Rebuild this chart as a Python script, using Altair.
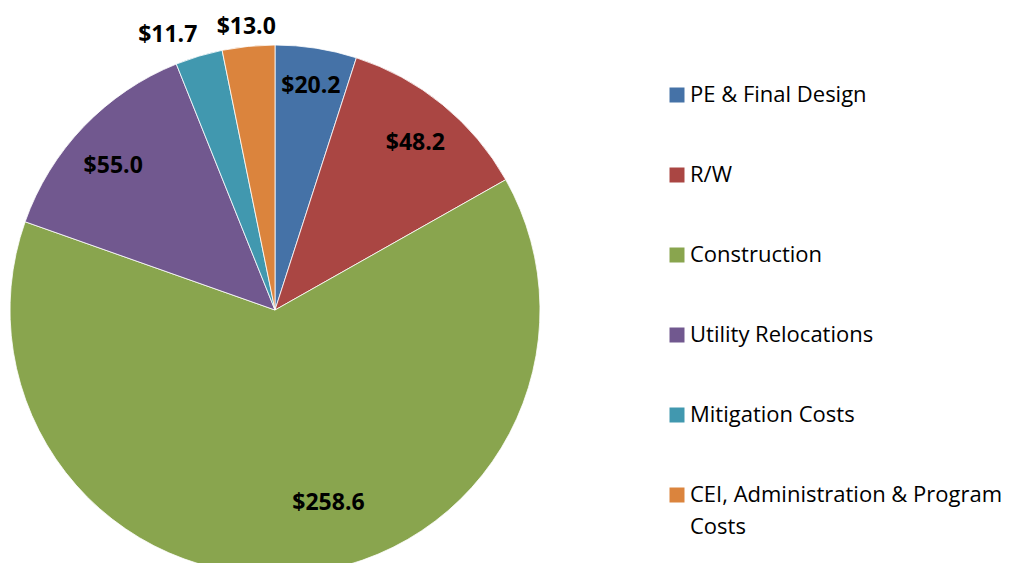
import altair as alt
import pandas as pd

categories = ["PE & Final Design", "R/W", "Construction", "Utility Relocations",
              "Mitigation Costs", "CEI, Administration & Program Costs"]
values = [20.2, 48.2, 258.6, 55.0, 11.7, 13.0]
colors = ["#4572A7", "#AA4643", "#89A54E", "#71588F", "#4198AF", "#DB843D"]

df = pd.DataFrame({"category": categories, "value": values, "order": list(range(len(values)))})
df["label"] = df["value"].map(lambda v: f"${v:.1f}")

CX, CY, R = 267, 302, 265
FONT = "Open Sans"

color_enc = alt.Color(
    "category:N",
    scale=alt.Scale(domain=categories, range=colors),
    legend=alt.Legend(
        title=None, orient="none", legendX=658, legendY=76,
        symbolType="square", symbolSize=225, symbolStrokeWidth=0,
        labelFont=FONT, labelFontSize=22, labelColor="#000000",
        rowPadding=58, labelLimit=400, symbolOffset=0, labelOffset=2,
        labelExpr="datum.label == 'CEI, Administration & Program Costs' ? ['CEI, Administration & Program', 'Costs'] : datum.label",
    ),
)

base = alt.Chart(df).encode(
    theta=alt.Theta("value:Q", stack=True),
    order=alt.Order("order:Q"),
    x=alt.value(CX),
    y=alt.value(CY),
)

pie = base.mark_arc(outerRadius=R, stroke="#ffffff", strokeWidth=0.8).encode(color=color_enc)


def label_layer(cat, radius, dx=0, dy=0):
    return base.mark_text(
        radius=radius, dx=dx, dy=dy, font=FONT, fontSize=23, fontWeight="bold",
        color="#000000", align="center", baseline="middle",
    ).encode(
        text=alt.condition(alt.datum.category == cat, alt.Text("label:N"), alt.value(""))
    )


labels = [
    label_layer(categories[0], 231, dy=4),
    label_layer(categories[1], 222, dy=5),
    label_layer(categories[2], 200, dx=36, dy=-6),
    label_layer(categories[3], 220, dx=-3, dy=8),
    label_layer(categories[4], 290, dx=-24, dy=3),
    label_layer(categories[5], 287, dy=3),
]

chart = alt.layer(pie, *labels).properties(
    width=1007, height=555, padding=0,
    autosize=alt.AutoSizeParams(type="none"),
).configure(
    style={"guide-label": {"lineHeight": 32}}
).configure_view(stroke=None, strokeWidth=0)

chart.save("out.html", embed_options={"renderer": "svg", "actions": False})
